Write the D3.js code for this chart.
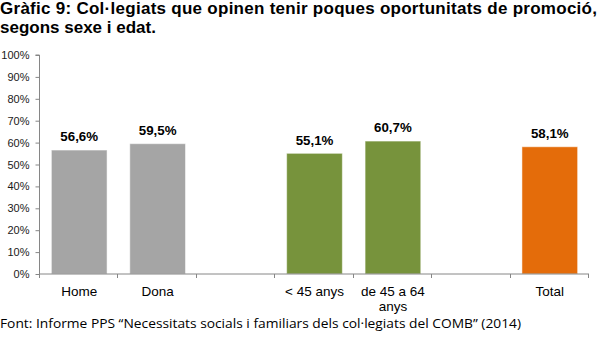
<!DOCTYPE html>
<html><head><meta charset="utf-8">
<script src="https://cdn.jsdelivr.net/npm/d3@7/dist/d3.min.js"></script>
<style>body{margin:0;background:#fff}svg{display:block}</style>
</head><body>
<script>
const categories = ["Home", "Dona", "", "< 45 anys", "de 45 a 64 anys", " ", "Total"];
const values = [56.6, 59.5, null, 55.1, 60.7, null, 58.1];
const valueLabels = ["56,6%", "59,5%", "", "55,1%", "60,7%", "", "58,1%"];
const barColors = ["#A5A5A5", "#A5A5A5", null, "#77933C", "#77933C", null, "#E46C0A"];
const yTicks = [0, 10, 20, 30, 40, 50, 60, 70, 80, 90, 100];
const titleLines = ["Gràfic 9: Col·legiats que opinen tenir poques oportunitats de promoció,", "segons sexe i edat."];
const footer = "Font: Informe PPS “Necessitats socials i familiars dels col·legiats del COMB” (2014)";

const W = 600, H = 337;
const FONT = "'Liberation Sans', Arial, sans-serif";
const svg = d3.select("body").append("svg").attr("width", W).attr("height", H);

// Title
svg.append("text").attr("x", 0).attr("y", 14)
  .style("font-family", FONT).attr("font-weight", "bold")
  .attr("font-size", 17).attr("fill", "#000")
  .attr("textLength", 597).attr("lengthAdjust", "spacing")
  .text(titleLines[0]);
svg.append("text").attr("x", 0).attr("y", 32.5)
  .style("font-family", FONT).attr("font-weight", "bold")
  .attr("font-size", 17).attr("fill", "#000")
  .text(titleLines[1]);

const x = d3.scaleBand().domain(categories).range([40, 589]).paddingInner(0.29).paddingOuter(0.145);
const y = d3.scaleLinear().domain([0, 100]).range([274, 55]);

// Y axis
const yAxis = svg.append("g").attr("transform", "translate(39.5,0)")
  .call(d3.axisLeft(y).tickValues(yTicks).tickSize(4).tickFormat(d => d + "%"));
yAxis.select(".domain").attr("stroke", "#868686").attr("d", `M-4,${y(100)}H0V${y(0)}`);
yAxis.selectAll(".tick line").attr("stroke", "#868686");
yAxis.selectAll(".tick text").style("font-family", FONT)
  .attr("font-size", 11).attr("fill", "#1a1a1a").attr("x", -10);

// Bars
const data = categories.map((c, i) => ({c, v: values[i], l: valueLabels[i], col: barColors[i]})).filter(d => d.v !== null);
svg.selectAll("rect.bar").data(data).enter().append("rect").attr("class", "bar")
  .attr("x", d => x(d.c)).attr("width", x.bandwidth())
  .attr("y", d => y(d.v)).attr("height", d => y(0) - y(d.v))
  .attr("fill", d => d.col).attr("stroke", "#ffffff").attr("stroke-opacity", 0.5).attr("stroke-width", 1);

svg.selectAll("text.val").data(data).enter().append("text").attr("class", "val")
  .attr("x", d => x(d.c) + x.bandwidth() / 2).attr("y", d => y(d.v) - 8.7)
  .attr("text-anchor", "middle").style("font-family", FONT)
  .attr("font-weight", "bold").attr("font-size", 13.3).attr("fill", "#000").text(d => d.l);

// X axis
const xg = svg.append("g").attr("transform", `translate(0,${y(0)})`);
xg.append("line").attr("x1", 39.5).attr("x2", 589).attr("y1", 0).attr("y2", 0).attr("stroke", "#868686");
const tickXs = d3.range(categories.length + 1).map(i => 40 + i * (549 / categories.length));
xg.selectAll("line.t").data(tickXs).enter().append("line").attr("class", "t")
  .attr("x1", d => Math.round(d) - 0.5).attr("x2", d => Math.round(d) - 0.5).attr("y1", 0).attr("y2", 4).attr("stroke", "#868686");

const labelLines = {"de 45 a 64 anys": ["de 45 a 64", "anys"]};
categories.forEach(c => {
  if (!c.trim()) return;
  const lines = labelLines[c] || [c];
  const t = svg.append("text").attr("x", x(c) + x.bandwidth() / 2).attr("y", 295.5)
    .attr("text-anchor", "middle").style("font-family", FONT)
    .attr("font-size", 13.5).attr("fill", "#000");
  lines.forEach((ln, i) => t.append("tspan").attr("x", x(c) + x.bandwidth() / 2).attr("dy", i === 0 ? 0 : 15.5).text(ln));
});

// Footer
svg.append("text").attr("x", 0).attr("y", 328)
  .style("font-family", "'Open Sans', sans-serif").attr("font-size", 12.5).attr("fill", "#000")
  .attr("textLength", 521).attr("lengthAdjust", "spacingAndGlyphs")
  .text(footer);
</script>
</body></html>
